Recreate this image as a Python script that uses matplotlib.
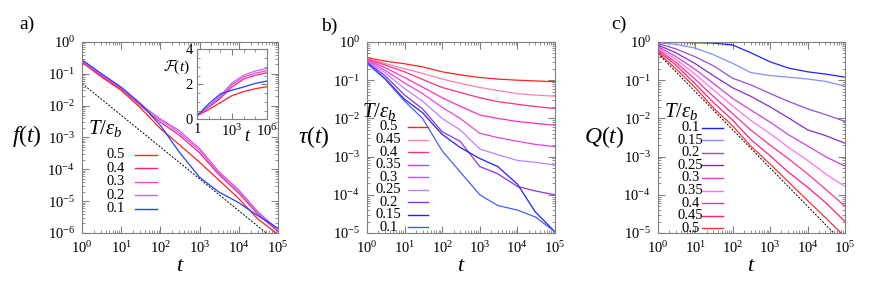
import numpy as np
import matplotlib
matplotlib.use("Agg")
import matplotlib.pyplot as plt
from matplotlib.ticker import LogLocator, NullFormatter

plt.rcParams.update({
    "font.family": "Liberation Serif",
    "mathtext.fontset": "custom",
    "mathtext.rm": "Liberation Serif",
    "mathtext.it": "Liberation Serif:italic",
    "mathtext.cal": "cmsy10",
    "font.size": 9,
})

# ── data (stored as log10) ──────────────────────────────────────────────
T_GRID = np.array([1, 3, 10, 30, 100, 300, 1e3, 3e3, 1e4, 3e4, 1e5])

# (a) f(t)
A_TEMPS = ["0.5", "0.4", "0.3", "0.2", "0.1"]
A_LOGF = [
    [-0.64, -1.08, -1.52, -2.05, -2.72, -3.22, -3.78, -4.32, -4.92, -5.55, -6.05],
    [-0.62, -1.05, -1.48, -1.98, -2.52, -2.92, -3.48, -4.15, -4.75, -5.4, -5.95],
    [-0.60, -1.02, -1.45, -1.95, -2.42, -2.78, -3.35, -4.05, -4.65, -5.32, -5.9],
    [-0.58, -1.0, -1.43, -1.93, -2.45, -2.85, -3.4, -4.1, -4.68, -5.35, -5.9],
    [-0.56, -0.98, -1.42, -1.92, -2.62, -3.45, -4.25, -4.7, -5.05, -5.45, -5.85],
]
A_GUIDE = 0.05          # black guide  A/t

# (a, inset) F(t)
INSET_T = np.array([1, 10, 100, 1e3, 1e4, 1e5, 1e6])
INSET_F = [
    [0.2, 0.55, 0.95, 1.35, 1.58, 1.75, 1.86],
    [0.2, 0.68, 1.2, 1.85, 2.3, 2.52, 2.66],
    [0.2, 0.72, 1.3, 1.98, 2.42, 2.64, 2.78],
    [0.2, 0.75, 1.35, 2.08, 2.52, 2.76, 2.91],
    [0.2, 0.88, 1.45, 1.66, 1.85, 2.05, 2.19],
]
A_COLORS = ["#ff2020", "#ff2070", "#ff40e0", "#b070ff", "#2040ff"]

# (b) tau(t)
B_TEMPS = ["0.5", "0.45", "0.4", "0.35", "0.3", "0.25", "0.2", "0.15", "0.1"]
B_LOGTAU = [
    [-0.41, -0.5, -0.57, -0.65, -0.78, -0.86, -0.93, -0.97, -1.0, -1.02, -1.04],
    [-0.43, -0.56, -0.70, -0.82, -0.97, -1.08, -1.19, -1.27, -1.35, -1.39, -1.42],
    [-0.45, -0.6, -0.78, -0.98, -1.19, -1.32, -1.46, -1.56, -1.63, -1.69, -1.74],
    [-0.47, -0.67, -0.93, -1.18, -1.46, -1.68, -1.91, -2.0, -2.08, -2.13, -2.18],
    [-0.49, -0.74, -1.07, -1.35, -1.71, -2.0, -2.39, -2.5, -2.6, -2.68, -2.74],
    [-0.51, -0.8, -1.22, -1.55, -2.0, -2.3, -2.8, -2.95, -3.1, -3.15, -3.22],
    [-0.53, -0.88, -1.39, -1.75, -2.35, -2.6, -3.26, -3.45, -3.78, -3.9, -4.0],
    [-0.55, -0.95, -1.5, -1.85, -2.42, -2.76, -3.05, -3.26, -3.72, -4.45, -4.97],
    [-0.56, -0.97, -1.55, -2.0, -2.85, -3.4, -4.0, -4.28, -4.4, -4.58, -4.97],
]
B_COLORS = ["#ff2020", "#ff80b0", "#ff3080", "#ff30c0", "#f040e0",
            "#c080ff", "#9030f0", "#2020ff", "#4060ff"]

# (c) Q(t)
C_TEMPS = ["0.1", "0.15", "0.2", "0.25", "0.3", "0.35", "0.4", "0.45", "0.5"]
C_LOGQ = [
    [-0.01, -0.01, -0.02, -0.03, -0.08, -0.28, -0.52, -0.68, -0.78, -0.84, -0.92],
    [-0.02, -0.06, -0.16, -0.33, -0.56, -0.8, -0.88, -0.92, -0.97, -1.03, -1.16],
    [-0.04, -0.18, -0.39, -0.62, -0.95, -1.12, -1.35, -1.55, -1.75, -1.9, -2.08],
    [-0.08, -0.28, -0.57, -0.88, -1.2, -1.42, -1.7, -1.98, -2.3, -2.45, -2.65],
    [-0.12, -0.38, -0.72, -1.08, -1.48, -1.78, -2.1, -2.42, -2.72, -3.0, -3.25],
    [-0.16, -0.45, -0.85, -1.25, -1.68, -2.05, -2.4, -2.75, -3.1, -3.45, -3.78],
    [-0.2, -0.53, -0.98, -1.42, -1.88, -2.3, -2.7, -3.05, -3.45, -3.85, -4.3],
    [-0.24, -0.6, -1.1, -1.58, -2.05, -2.55, -2.98, -3.4, -3.8, -4.2, -4.7],
    [-0.28, -0.7, -1.2, -1.72, -2.2, -2.72, -3.2, -3.65, -4.15, -4.6, -5.1],
]
C_GUIDE = 0.5
C_COLORS = ["#2020ff", "#8090ff", "#9050e0", "#8030d0", "#d040e0",
            "#ff70ff", "#ff3090", "#ff2080", "#ff3030"]

FRAME = "#808080"


def style_log(ax, ylo, yhi):
    ax.set_xscale("log")
    ax.set_yscale("log")
    ax.set_xlim(1, 1e5)
    ax.set_ylim(ylo, yhi)
    for axis in (ax.xaxis, ax.yaxis):
        axis.set_major_locator(LogLocator(base=10, numticks=20))
        axis.set_minor_locator(LogLocator(base=10, subs=np.arange(2, 10), numticks=20))
        axis.set_minor_formatter(NullFormatter())
    ax.tick_params(which="both", direction="in", top=True, right=True,
                   color=FRAME, labelsize=10.5)
    ax.tick_params(which="major", length=5, pad=5)
    ax.tick_params(which="minor", length=2.5)
    for s in ax.spines.values():
        s.set_color(FRAME)
        s.set_linewidth(0.8)
    ax.set_xlabel(r"$t$", fontsize=16, labelpad=1)


def legend(ax, temps, colors, x_lab, x0, x1, y_title, y_first, dy):
    ax.text(x_lab - 0.05, y_title, r"$T/\varepsilon_b$", transform=ax.transAxes,
            fontsize=15, ha="center", va="center")
    for i, (lab, c) in enumerate(zip(temps, colors)):
        y = y_first - i * dy
        ax.text(x_lab, y, lab, transform=ax.transAxes, fontsize=10.5,
                ha="center", va="center")
        ax.plot([x0, x1], [y, y], color=c, lw=1.0, transform=ax.transAxes)


fig = plt.figure(figsize=(8.72, 2.93), dpi=100)
W, H = 872.0, 293.0

# ── (a) ──
axa = fig.add_axes([82 / W, (H - 233) / H, 196 / W, 191 / H])
for vals, c in zip(A_LOGF, A_COLORS):
    axa.plot(T_GRID, 10 ** np.array(vals), color=c, lw=0.9)
tt = np.logspace(0, 5, 50)
axa.plot(tt, A_GUIDE / tt, color="black", lw=0.7, ls=(0, (2, 1.5)))
style_log(axa, 1e-6, 1)
axa.text(-0.28, 0.51, r"$f(t)$", transform=axa.transAxes, fontsize=17,
         ha="center", va="center")
axa.text(-0.28, 1.09, "a)", transform=axa.transAxes, fontsize=14,
         ha="center", va="center")
legend(axa, A_TEMPS, A_COLORS, 0.17, 0.27, 0.385, 0.545, 0.41, 0.071)

# inset
axi = fig.add_axes([197 / W, (H - 119.3) / H, 70 / W, 70 / H])
for vals, c in zip(INSET_F, A_COLORS):
    axi.plot(INSET_T, vals, color=c, lw=0.9)
axi.set_xscale("log")
axi.set_xlim(1, 1e6)
axi.set_ylim(0, 4)
axi.set_xticks([1, 1e3, 1e6])
axi.set_xticklabels(["1", r"$10^3$", r"$10^6$"])
axi.set_xticks([1e1, 1e2, 1e4, 1e5], minor=True)
axi.xaxis.set_minor_formatter(NullFormatter())
axi.set_yticks([0, 2, 4])
axi.set_yticks([0.5, 1, 1.5, 2.5, 3, 3.5], minor=True)
axi.tick_params(which="both", direction="in", top=True, right=True,
                color=FRAME, labelsize=10.5, pad=3)
axi.tick_params(which="major", length=4)
axi.tick_params(which="minor", length=2)
for s in axi.spines.values():
    s.set_color(FRAME)
    s.set_linewidth(0.8)
axi.text(-0.1, 0.74, r"$\mathcal{F}(t)$", transform=axi.transAxes,
         fontsize=11, ha="right", va="center")
axi.text(0.72, -0.12, r"$t$", transform=axi.transAxes, fontsize=13,
         ha="center", va="top")

# ── (b) ──
axb = fig.add_axes([367 / W, (H - 233) / H, 188 / W, 191 / H])
for vals, c in zip(B_LOGTAU, B_COLORS):
    axb.plot(T_GRID, 10 ** np.array(vals), color=c, lw=0.9)
style_log(axb, 1e-5, 1)
axb.text(-0.28, 0.5, r"$\tau(t)$", transform=axb.transAxes, fontsize=17,
         ha="center", va="center")
axb.text(-0.2, 1.08, "b)", transform=axb.transAxes, fontsize=14,
         ha="center", va="center")
legend(axb, B_TEMPS, B_COLORS, 0.115, 0.22, 0.325, 0.635, 0.555, 0.0655)

# ── (c) ──
axc = fig.add_axes([658 / W, (H - 233) / H, 187 / W, 191 / H])
for vals, c in zip(C_LOGQ, C_COLORS):
    axc.plot(T_GRID, 10 ** np.array(vals), color=c, lw=0.9)
axc.plot(tt, C_GUIDE / tt, color="black", lw=0.7, ls=(0, (2, 1.5)))
style_log(axc, 1e-5, 1)
axc.text(-0.29, 0.5, r"$Q(t)$", transform=axc.transAxes, fontsize=17,
         ha="center", va="center")
axc.text(-0.21, 1.09, "c)", transform=axc.transAxes, fontsize=14,
         ha="center", va="center")
legend(axc, C_TEMPS, C_COLORS, 0.175, 0.235, 0.345, 0.635, 0.55, 0.0655)

fig.savefig("out.png", dpi=100)
